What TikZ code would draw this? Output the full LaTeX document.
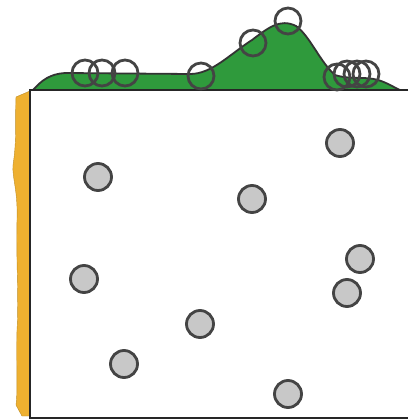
\documentclass[tikz,border=0pt]{standalone}
\begin{document}
\begin{tikzpicture}[x=1pt,y=-1pt,
  bubble/.style={circle,draw=ringgray,line width=2.8pt,minimum size=26pt,inner sep=0pt},
  grain/.style={circle,draw=ringgray,fill=graincol,line width=2.8pt,minimum size=27pt,inner sep=0pt}]
\definecolor{ringgray}{HTML}{444444}
\definecolor{graincol}{HTML}{C8C8C8}
\definecolor{moundgreen}{HTML}{2F9A3C}
\definecolor{strip}{HTML}{EEB030}
\useasboundingbox (0,0) rectangle (408,420);
% orange strip
\fill[strip,draw=strip!80!black,line width=0.4pt] (30,91) -- (16,97) .. controls (15,120) and (17,140) .. (13,165)
  .. controls (12,178) and (18,190) .. (17,220) .. controls (16,260) and (19,300) .. (17,330)
  .. controls (16,360) and (18,390) .. (16,405) -- (22,416) -- (30,416) -- cycle;
% green mound
\fill[moundgreen,draw=black!80,line width=1.8pt] (33,90) .. controls (42,80) and (50,74) .. (65,73)
  -- (190,74) .. controls (212,74) and (230,54) .. (252,40)
  .. controls (268,28) and (280,18) .. (296,26)
  .. controls (310,36) and (320,62) .. (335,75)
  .. controls (350,80) and (365,76) .. (378,80)
  .. controls (388,83) and (395,88) .. (400,90) -- cycle;
% box
\draw[black!85,line width=2.6pt] (408,90) -- (30,90) -- (30,418) -- (408,418);
% bubbles on mound
\node[bubble] (b1) at (85,73) {};
\node[bubble] (b2) at (102,73) {};
\node[bubble] (b3) at (125,73) {};
\node[bubble] (b4) at (201,76) {};
\node[bubble] (b5) at (253,43) {};
\node[bubble] (b6) at (288,21) {};
\node[bubble] (b7) at (337,77) {};
\node[bubble] (b8) at (347,74) {};
\node[bubble] (b9) at (357,74) {};
\node[bubble] (b10) at (366,74) {};
% grains
\node[grain] (g1) at (98,177) {};
\node[grain] (g2) at (340,143) {};
\node[grain] (g3) at (252,199) {};
\node[grain] (g4) at (84,279) {};
\node[grain] (g5) at (360,259) {};
\node[grain] (g6) at (347,293) {};
\node[grain] (g7) at (200,324) {};
\node[grain] (g8) at (124,364) {};
\node[grain] (g9) at (288,394) {};
\end{tikzpicture}
\end{document}
